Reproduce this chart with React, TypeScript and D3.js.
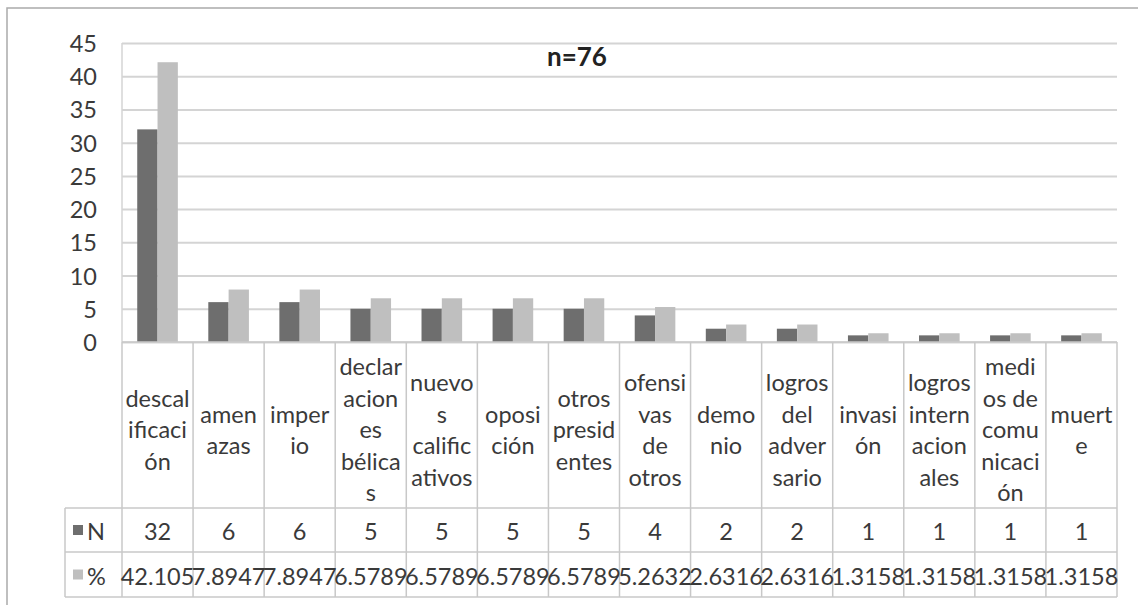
import { useRef, useEffect } from 'react';
import * as d3 from 'd3';

// category labels, wrapped the same way as in the chart
const categories = [
  'descalificación', 'amenazas', 'imperio', 'declaraciones bélicas', 'nuevos calificativos',
  'oposición', 'otros presidentes', 'ofensivas de otros', 'demonio', 'logros del adversario',
  'invasión', 'logros internacionales', 'medios de comunicación', 'muerte',
];
const labelLines = [
  ['descal', 'ificaci', 'ón'], ['amen', 'azas'], ['imper', 'io'],
  ['declar', 'acion', 'es', 'bélica', 's'], ['nuevo', 's', 'calific', 'ativos'],
  ['oposi', 'ción'], ['otros', 'presid', 'entes'], ['ofensi', 'vas', 'de', 'otros'],
  ['demo', 'nio'], ['logros', 'del', 'adver', 'sario'], ['invasi', 'ón'],
  ['logros', 'intern', 'acion', 'ales'], ['medi', 'os de', 'comu', 'nicaci', 'ón'], ['muert', 'e'],
];
const nValues = [32, 6, 6, 5, 5, 5, 5, 4, 2, 2, 1, 1, 1, 1];
const pctValues = ['42.105', '7.8947', '7.8947', '6.5789', '6.5789', '6.5789', '6.5789',
  '5.2632', '2.6316', '2.6316', '1.3158', '1.3158', '1.3158', '1.3158'];
const seriesNames = ['N', '%'];
const title = 'n=76';

const App = () => {
  const ref = useRef<SVGSVGElement>(null);

  useEffect(() => {
    const svg = d3.select(ref.current);
    svg.selectAll('*').remove();

    const width = 1138;
    const height = 605;
    const left = 122, right = 1117, top = 43, bottom = 342;
    const tableTop = 508, rowMid = 552, tableBottom = 597, legendLeft = 65;
    const font = 'Lato, "Open Sans", sans-serif';
    const fs = 23.5;
    const textColor = '#3a3a3a';
    const gridColor = '#d4d4d4';
    const colors = ['#6e6e6e', '#bfbfbf'];

    svg.append('rect').attr('width', width).attr('height', height).attr('fill', '#fff');

    // outer chart border
    svg.append('rect')
      .attr('x', 7).attr('y', 8).attr('width', width + 20).attr('height', height + 20)
      .attr('fill', 'none').attr('stroke', '#ababab').attr('stroke-width', 1.5);

    const x = d3.scaleBand().domain(categories).range([left, right]);
    const xs = d3.scaleBand().domain(seriesNames).range([0, x.bandwidth()]).paddingOuter(0.75);
    const y = d3.scaleLinear().domain([0, 45]).range([bottom, top]);

    // gridlines
    const grid = svg.append('g')
      .attr('transform', `translate(${left},0)`)
      .call(d3.axisLeft(y).ticks(9).tickSize(-(right - left)).tickFormat(() => ''));
    grid.select('.domain').remove();
    grid.selectAll('line').attr('stroke', gridColor).attr('stroke-width', 2);

    // vertical axis line
    svg.append('line')
      .attr('x1', left).attr('x2', left).attr('y1', top).attr('y2', bottom)
      .attr('stroke', gridColor).attr('stroke-width', 1.5);

    // y tick labels
    const yAxis = svg.append('g')
      .attr('transform', 'translate(97,0)')
      .call(d3.axisLeft(y).ticks(9).tickSize(0).tickPadding(0));
    yAxis.select('.domain').remove();
    yAxis.selectAll('text')
      .attr('font-family', font).attr('font-size', fs).attr('fill', textColor)
      .attr('dy', '0.36em');

    // bars
    const allValues = [nValues, pctValues.map(Number)];
    seriesNames.forEach((s, si) => {
      svg.append('g').selectAll('rect')
        .data(categories)
        .enter().append('rect')
        .attr('x', d => (x(d) as number) + (xs(s) as number))
        .attr('width', xs.bandwidth())
        .attr('y', (_, i) => y(allValues[si][i]))
        .attr('height', (_, i) => bottom - y(allValues[si][i]))
        .attr('fill', colors[si]);
    });

    // table lines
    const lines = svg.append('g').attr('stroke', '#c8c8c8').attr('stroke-width', 1.5);
    lines.append('line').attr('x1', left).attr('x2', right).attr('y1', bottom).attr('y2', bottom);
    [tableTop, rowMid, tableBottom].forEach(v => {
      lines.append('line').attr('x1', legendLeft).attr('x2', right).attr('y1', v).attr('y2', v);
    });
    lines.append('line').attr('x1', legendLeft).attr('x2', legendLeft).attr('y1', tableTop).attr('y2', tableBottom);
    categories.concat(['end']).forEach((c, i) => {
      const xp = i < categories.length ? (x(c) as number) : right;
      lines.append('line').attr('x1', xp).attr('x2', xp).attr('y1', bottom).attr('y2', tableBottom);
    });

    // category labels
    const lineH = 31.5;
    const labelMid = 430;
    categories.forEach((c, i) => {
      const ls = labelLines[i];
      const t = svg.append('text')
        .attr('font-family', font).attr('font-size', fs).attr('fill', textColor)
        .attr('text-anchor', 'middle');
      ls.forEach((l, j) => {
        t.append('tspan')
          .attr('x', (x(c) as number) + x.bandwidth() / 2)
          .attr('y', labelMid + (j - (ls.length - 1) / 2) * lineH)
          .attr('dy', '0.36em')
          .text(l);
      });
    });

    // data table rows
    const rows = [nValues.map(String), pctValues];
    const rowY = [(tableTop + rowMid) / 2 + 2, (rowMid + tableBottom) / 2 + 2];
    rows.forEach((r, ri) => {
      svg.append('g').selectAll('text')
        .data(r)
        .enter().append('text')
        .attr('x', (_, i) => (x(categories[i]) as number) + x.bandwidth() / 2)
        .attr('y', rowY[ri])
        .attr('dy', '0.36em')
        .attr('text-anchor', 'middle')
        .attr('font-family', font).attr('font-size', fs).attr('fill', textColor)
        .text(d => d);

      // legend key
      svg.append('rect')
        .attr('x', 73).attr('y', rowY[ri] - 7).attr('width', 10).attr('height', 10)
        .attr('fill', colors[ri]);
      svg.append('text')
        .attr('x', 87).attr('y', rowY[ri]).attr('dy', '0.36em')
        .attr('font-family', font).attr('font-size', fs).attr('fill', textColor)
        .text(seriesNames[ri]);
    });

    // title
    svg.append('text')
      .attr('x', 577).attr('y', 57).attr('dy', '0.36em')
      .attr('text-anchor', 'middle')
      .attr('font-family', font).attr('font-size', 26).attr('font-weight', 'bold')
      .attr('fill', '#222')
      .text(title);
  }, []);

  return (
    <svg ref={ref} width={1138} height={605}
      style={{ position: 'absolute', left: 0, top: 0, display: 'block' }} />
  );
};

export default App;
